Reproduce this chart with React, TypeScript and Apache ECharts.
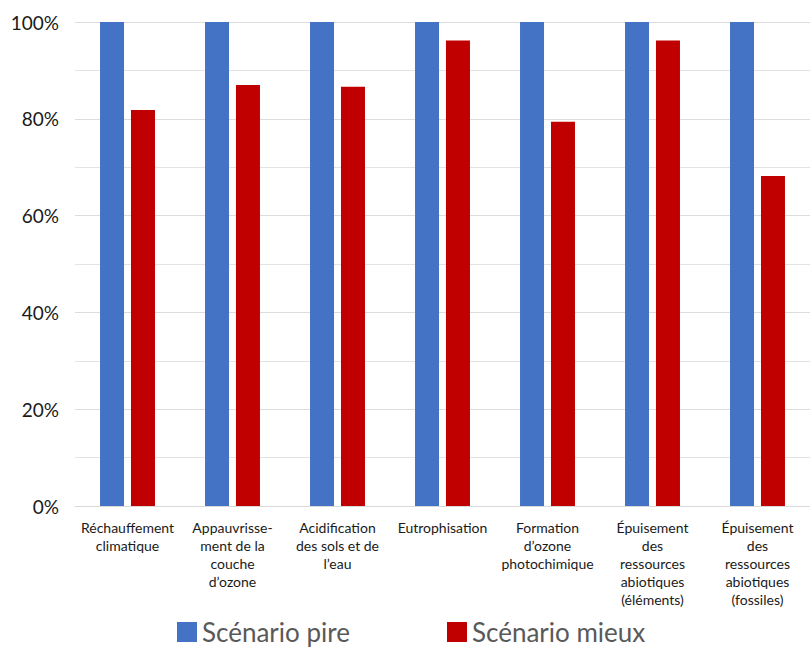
import React, { useEffect, useRef } from "react";
import * as echarts from "echarts";

const categories = [
  "Réchauffement\nclimatique",
  "Appauvrisse-\nment de la\ncouche\nd’ozone",
  "Acidification\ndes sols et de\nl’eau",
  "Eutrophisation",
  "Formation\nd’ozone\nphotochimique",
  "Épuisement\ndes\nressources\nabiotiques\n(éléments)",
  "Épuisement\ndes\nressources\nabiotiques\n(fossiles)",
];
const scenarioPire = [100, 100, 100, 100, 100, 100, 100];
const scenarioMieux = [81.8, 87.0, 86.6, 96.2, 79.4, 96.2, 68.2];
const seriesNames = ["Scénario pire", "Scénario mieux"];
const colors = ["#4472C4", "#C00000"];

const FONT = "Lato, 'Open Sans', sans-serif";

const legendText = {
  fontSize: 26,
  lineHeight: 20,
  color: "#595959",
  fontFamily: FONT,
};

export default function App() {
  const ref = useRef<HTMLDivElement>(null);
  useEffect(() => {
    document.body.style.margin = "0";
    const chart = echarts.init(ref.current!, null, { renderer: "svg" });
    chart.setOption({
      animation: false,
      backgroundColor: "#ffffff",
      textStyle: { fontFamily: FONT },
      grid: { left: 75, top: 22, width: 741, height: 484, containLabel: false },
      legend: [
        {
          top: 619,
          left: 177,
          padding: 0,
          itemWidth: 20,
          itemHeight: 20,
          icon: "rect",
          textStyle: legendText,
          data: [seriesNames[0]],
        },
        {
          top: 619,
          left: 447,
          padding: 0,
          itemWidth: 20,
          itemHeight: 20,
          icon: "rect",
          textStyle: legendText,
          data: [seriesNames[1]],
        },
      ],
      xAxis: {
        type: "category",
        data: categories,
        axisLine: { show: true, lineStyle: { color: "#d9d9d9", width: 1 } },
        axisTick: { show: false },
        axisLabel: {
          interval: 0,
          color: "#1a1a1a",
          fontSize: 14,
          lineHeight: 18,
          margin: 12,
          fontFamily: FONT,
        },
      },
      yAxis: {
        type: "value",
        min: 0,
        max: 100,
        interval: 20,
        axisLine: { show: false },
        axisTick: { show: false },
        axisLabel: {
          formatter: "{value}%",
          color: "#1a1a1a",
          fontSize: 19,
          margin: 16,
          fontFamily: FONT,
        },
        splitLine: { show: true, lineStyle: { color: "#dddddd", width: 1 } },
        minorTick: { show: false, splitNumber: 2 },
        minorSplitLine: { show: true, lineStyle: { color: "#e3e3e3", width: 1 } },
      },
      series: [
        {
          name: seriesNames[0],
          type: "bar",
          data: scenarioPire,
          barWidth: 24,
          barGap: "29%",
          itemStyle: { color: colors[0] },
        },
        {
          name: seriesNames[1],
          type: "bar",
          data: scenarioMieux,
          barWidth: 24,
          barGap: "29%",
          itemStyle: { color: colors[1] },
        },
      ],
    });
    return () => chart.dispose();
  }, []);
  return (
    <div
      ref={ref}
      style={{ position: "absolute", left: 0, top: 0, width: 810, height: 650 }}
    />
  );
}
